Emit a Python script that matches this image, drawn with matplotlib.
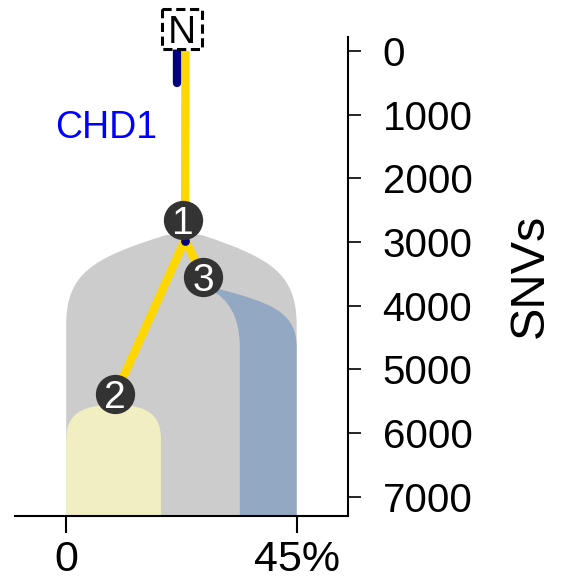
import matplotlib
matplotlib.use('Agg')
import matplotlib.pyplot as plt
from matplotlib.path import Path
from matplotlib.patches import PathPatch, Rectangle

plt.rcParams['font.family'] = ['Liberation Sans', 'DejaVu Sans']

# axis ticks
Y_TICKS = [0, 1000, 2000, 3000, 4000, 5000, 6000, 7000]
X_TICKS = [0, 45]
X_LABELS = ['0', '45%']
Y_TOP, Y_BOT = -220, 7300
X_LEFT, X_RIGHT = -10, 55

# clone outlines (cellular prevalence %, SNVs) - bezier control points
GRAY_LEFT = [(0, 4300), (0, 3500), (5, 3250), (19.5, 2890)]
GRAY_RIGHT = [(26.5, 2890), (40, 3250), (45, 3500), (45, 4300)]
BLUE_LEFT = [(33.9, 4650), (33.9, 4150), (31.5, 3900), (28.5, 3760)]
BLUE_RIGHT = [(29.5, 3730), (40, 3950), (45, 4100), (45, 4650)]
YEL_LEFT = [(0, 6100), (0, 5700), (3, 5560), (9.4, 5550)]
YEL_RIGHT = [(9.4, 5550), (15.8, 5560), (18.5, 5700), (18.5, 6100)]

# tree
N_POS = (22.6, -346)
TRUNK_X = 23.3
NODE1_ANCHOR = (23.2, 2960)
NODE_NAMES = ['1', '2', '3']
NODE_X = [22.85, 9.6, 26.7]
NODE_Y = [2650, 5392, 3553]
CHD1_SEG = (21.6, 0, 500)
CHD1_DOT = (23.2, 2990)

C_GRAY = '#cccccc'; C_BLUE = '#93a9c3'; C_YEL = '#f1efc2'
C_GOLD = '#ffd700'; C_NAVY = '#000080'; C_NODE = '#333333'


def outline(left, right):
    verts = [(left[0][0], Y_BOT), left[0]] + left[1:]
    codes = [Path.MOVETO, Path.LINETO] + [Path.CURVE4] * 3
    verts += [right[0]] + right[1:] + [(right[-1][0], Y_BOT), (left[0][0], Y_BOT)]
    codes += [Path.LINETO] + [Path.CURVE4] * 3 + [Path.LINETO, Path.CLOSEPOLY]
    return Path(verts, codes)


fig = plt.figure(figsize=(5.7, 5.86), dpi=100)
ax = fig.add_axes([0.0263, 0.1195, 0.584, 0.8174])

ax.add_patch(PathPatch(outline(GRAY_LEFT, GRAY_RIGHT), fc=C_GRAY, ec='none', zorder=1))
ax.add_patch(PathPatch(outline(BLUE_LEFT, BLUE_RIGHT), fc=C_BLUE, ec='none', zorder=2))
ax.add_patch(PathPatch(outline(YEL_LEFT, YEL_RIGHT), fc=C_YEL, ec='none', zorder=2))

# branches
ax.plot([TRUNK_X, NODE1_ANCHOR[0]], [0, NODE1_ANCHOR[1]], color=C_GOLD, lw=6, zorder=3, solid_capstyle='butt')
for i in (1, 2):
    ax.plot([NODE1_ANCHOR[0], NODE_X[i]], [NODE1_ANCHOR[1], NODE_Y[i]], color=C_GOLD, lw=6, zorder=3,
            solid_capstyle='butt')
ax.plot([CHD1_SEG[0]] * 2, CHD1_SEG[1:], color=C_NAVY, lw=6, solid_capstyle='round', zorder=3)
ax.scatter([CHD1_DOT[0]], [CHD1_DOT[1]], s=40, color=C_NAVY, zorder=3, linewidths=0)
ax.text(7.8, 1368, 'CHD1', color='blue', fontsize=27, ha='center', va='baseline', zorder=6)

# nodes
ax.scatter(NODE_X, NODE_Y, s=800, color=C_NODE, zorder=4, linewidths=0)
for n, x, y in zip(NODE_NAMES, NODE_X, NODE_Y):
    ax.annotate(n, (x, y), xytext=(0, -10), textcoords='offset points', ha='center', va='baseline',
                color='white', fontsize=28, zorder=5)

# normal root box
ax.add_patch(Rectangle((N_POS[0] - 3.9, N_POS[1] - 315), 7.8, 630, fc='white', ec='black', lw=2.2,
                       ls=(0, (3, 1.5)), joinstyle='round', zorder=5, clip_on=False))
ax.annotate('N', N_POS, xytext=(0, -10), textcoords='offset points', ha='center', va='baseline',
            fontsize=28, zorder=6, annotation_clip=False)

ax.set_xlim(X_LEFT, X_RIGHT)
ax.set_ylim(Y_BOT, Y_TOP)
ax.set_xticks(X_TICKS); ax.set_xticklabels(X_LABELS)
ax.set_yticks(Y_TICKS); ax.set_yticklabels([str(v) for v in Y_TICKS])
ax.yaxis.tick_right()
for s in ('top', 'left'):
    ax.spines[s].set_visible(False)
for s in ('bottom', 'right'):
    ax.spines[s].set_linewidth(1.5)
ax.tick_params(axis='y', direction='out', length=9, width=1.2, pad=16, labelsize=29)
ax.tick_params(axis='x', direction='out', length=12, width=1.5, pad=5, labelsize=31)
for lbl in ax.get_yticklabels():
    lbl.set_horizontalalignment('left')

fig.text(530 / 570, 1 - 276 / 586, 'SNVs', rotation=90, ha='center', va='center', fontsize=35)

fig.savefig('out.png', dpi=100, facecolor='white')
